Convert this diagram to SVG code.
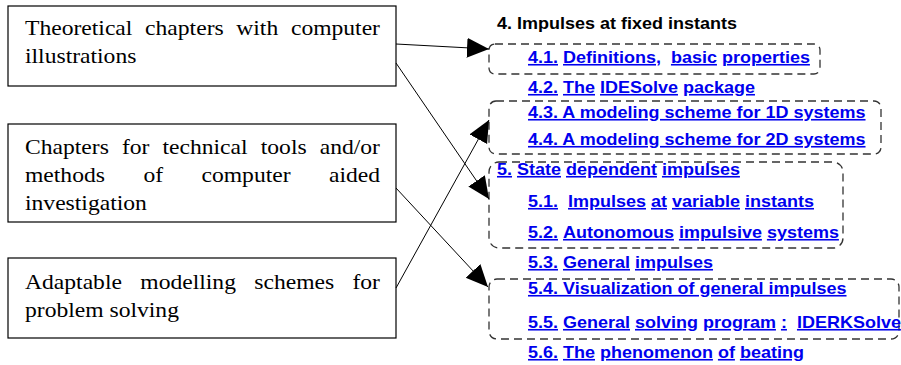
<svg xmlns="http://www.w3.org/2000/svg" width="901" height="365" viewBox="0 0 901 365">
<style>
.box{fill:#fff;stroke:#000;stroke-width:1.2}
.lt{font-family:"Liberation Serif","Times New Roman",serif;font-size:20px;fill:#000}
.rt{font-family:"Liberation Sans",Arial,sans-serif;font-size:16px;font-weight:bold;fill:#0000ee;white-space:pre}
.hd{fill:#000}
.u{text-decoration:underline}
.dash{fill:none;stroke:#333;stroke-width:1.3;stroke-dasharray:8,5}
.con{stroke:#000;stroke-width:1;fill:none;marker-end:url(#ah)}
</style>
<defs>
<marker id="ah" markerUnits="userSpaceOnUse" markerWidth="24" markerHeight="22" refX="22" refY="10" orient="auto">
<path d="M0,0 L22,10 L0,20 z" fill="#000"/>
</marker>
</defs>

<g id="node-theoretical">
<rect class="box" x="8" y="6" width="388" height="80"/>
<text class="lt" transform="translate(0,35) scale(1.18,1)"><tspan x="21.19">Theoretical</tspan><tspan x="122.97">chapters</tspan><tspan x="200.25">with</tspan><tspan x="322.03" text-anchor="end">computer</tspan></text>
<text class="lt" transform="translate(0,63) scale(1.18,1)" x="21.19">illustrations</text>
</g>

<g id="node-technical">
<rect class="box" x="8" y="124" width="388" height="98"/>
<text class="lt" transform="translate(0,154) scale(1.18,1)"><tspan x="21.19">Chapters</tspan><tspan x="103.35">for</tspan><tspan x="137.71">technical</tspan><tspan x="220.97">tools</tspan><tspan x="322.03" text-anchor="end">and/or</tspan></text>
<text class="lt" transform="translate(0,182) scale(1.18,1)"><tspan x="21.19">methods</tspan><tspan x="121.53">of</tspan><tspan x="170.76">computer</tspan><tspan x="322.03" text-anchor="end">aided</tspan></text>
<text class="lt" transform="translate(0,210) scale(1.18,1)" x="21.19">investigation</text>
</g>

<g id="node-adaptable">
<rect class="box" x="8" y="258" width="388" height="80"/>
<text class="lt" transform="translate(0,289) scale(1.18,1)"><tspan x="21.19">Adaptable</tspan><tspan x="118.90">modelling</tspan><tspan x="215.51">schemes</tspan><tspan x="322.03" text-anchor="end">for</tspan></text>
<text class="lt" transform="translate(0,317) scale(1.18,1)" x="21.19">problem solving</text>
</g>

<g id="node-group-41">
<rect class="dash" x="489" y="44" width="331" height="30" rx="6"/>
</g>
<g id="node-group-43-44">
<rect class="dash" x="489" y="101" width="392" height="53" rx="7"/>
</g>
<g id="node-group-5-52">
<rect class="dash" x="489" y="162" width="354" height="86" rx="10"/>
</g>
<g id="node-group-54-55">
<rect class="dash" x="489" y="279" width="410" height="60" rx="8"/>
</g>

<g id="node-toc">
<text class="rt hd" transform="translate(497,29) scale(1.125,1)">4. Impulses at fixed instants</text>
<text class="rt" transform="translate(528,63) scale(1.125,1)"><tspan class="u">4.1.</tspan> <tspan class="u">Definitions,</tspan>  <tspan class="u">basic</tspan> <tspan class="u">properties</tspan></text>
<text class="rt" transform="translate(528,93) scale(1.125,1)"><tspan class="u">4.2.</tspan> <tspan class="u">The</tspan> <tspan class="u">IDESolve</tspan> <tspan class="u">package</tspan></text>
<text class="rt u" transform="translate(528,118) scale(1.125,1)">4.3. A modeling scheme for 1D systems</text>
<text class="rt u" transform="translate(528,145) scale(1.125,1)">4.4. A modeling scheme for 2D systems</text>
<text class="rt" transform="translate(497,175) scale(1.125,1)"><tspan class="u">5.</tspan> <tspan class="u">State</tspan> <tspan class="u">dependent</tspan> <tspan class="u">impulses</tspan></text>
<text class="rt" transform="translate(528,207) scale(1.125,1)"><tspan class="u">5.1.</tspan>  <tspan class="u">Impulses</tspan> <tspan class="u">at</tspan> <tspan class="u">variable</tspan> <tspan class="u">instants</tspan></text>
<text class="rt" transform="translate(528,238) scale(1.125,1)"><tspan class="u">5.2.</tspan> <tspan class="u">Autonomous</tspan> <tspan class="u">impulsive</tspan> <tspan class="u">systems</tspan></text>
<text class="rt" transform="translate(528,268) scale(1.125,1)"><tspan class="u">5.3.</tspan> <tspan class="u">General</tspan> <tspan class="u">impulses</tspan></text>
<text class="rt u" transform="translate(528,294) scale(1.125,1)">5.4. Visualization of general impulses</text>
<text class="rt" transform="translate(528,328) scale(1.125,1)"><tspan class="u">5.5.</tspan> <tspan class="u">General</tspan> <tspan class="u">solving</tspan> <tspan class="u">program</tspan> <tspan class="u">:</tspan>  <tspan class="u">IDERKSolve</tspan></text>
<text class="rt" transform="translate(528,358) scale(1.125,1)"><tspan class="u">5.6.</tspan> <tspan class="u">The</tspan> <tspan class="u">phenomenon</tspan> <tspan class="u">of</tspan> <tspan class="u">beating</tspan></text>
</g>

<g id="connectors">
<line class="con" x1="396" y1="44" x2="489" y2="49"/>
<line class="con" x1="396" y1="63" x2="489" y2="199"/>
<line class="con" x1="396" y1="188" x2="488" y2="287"/>
<line class="con" x1="396" y1="288" x2="489" y2="120"/>
</g>
</svg>
